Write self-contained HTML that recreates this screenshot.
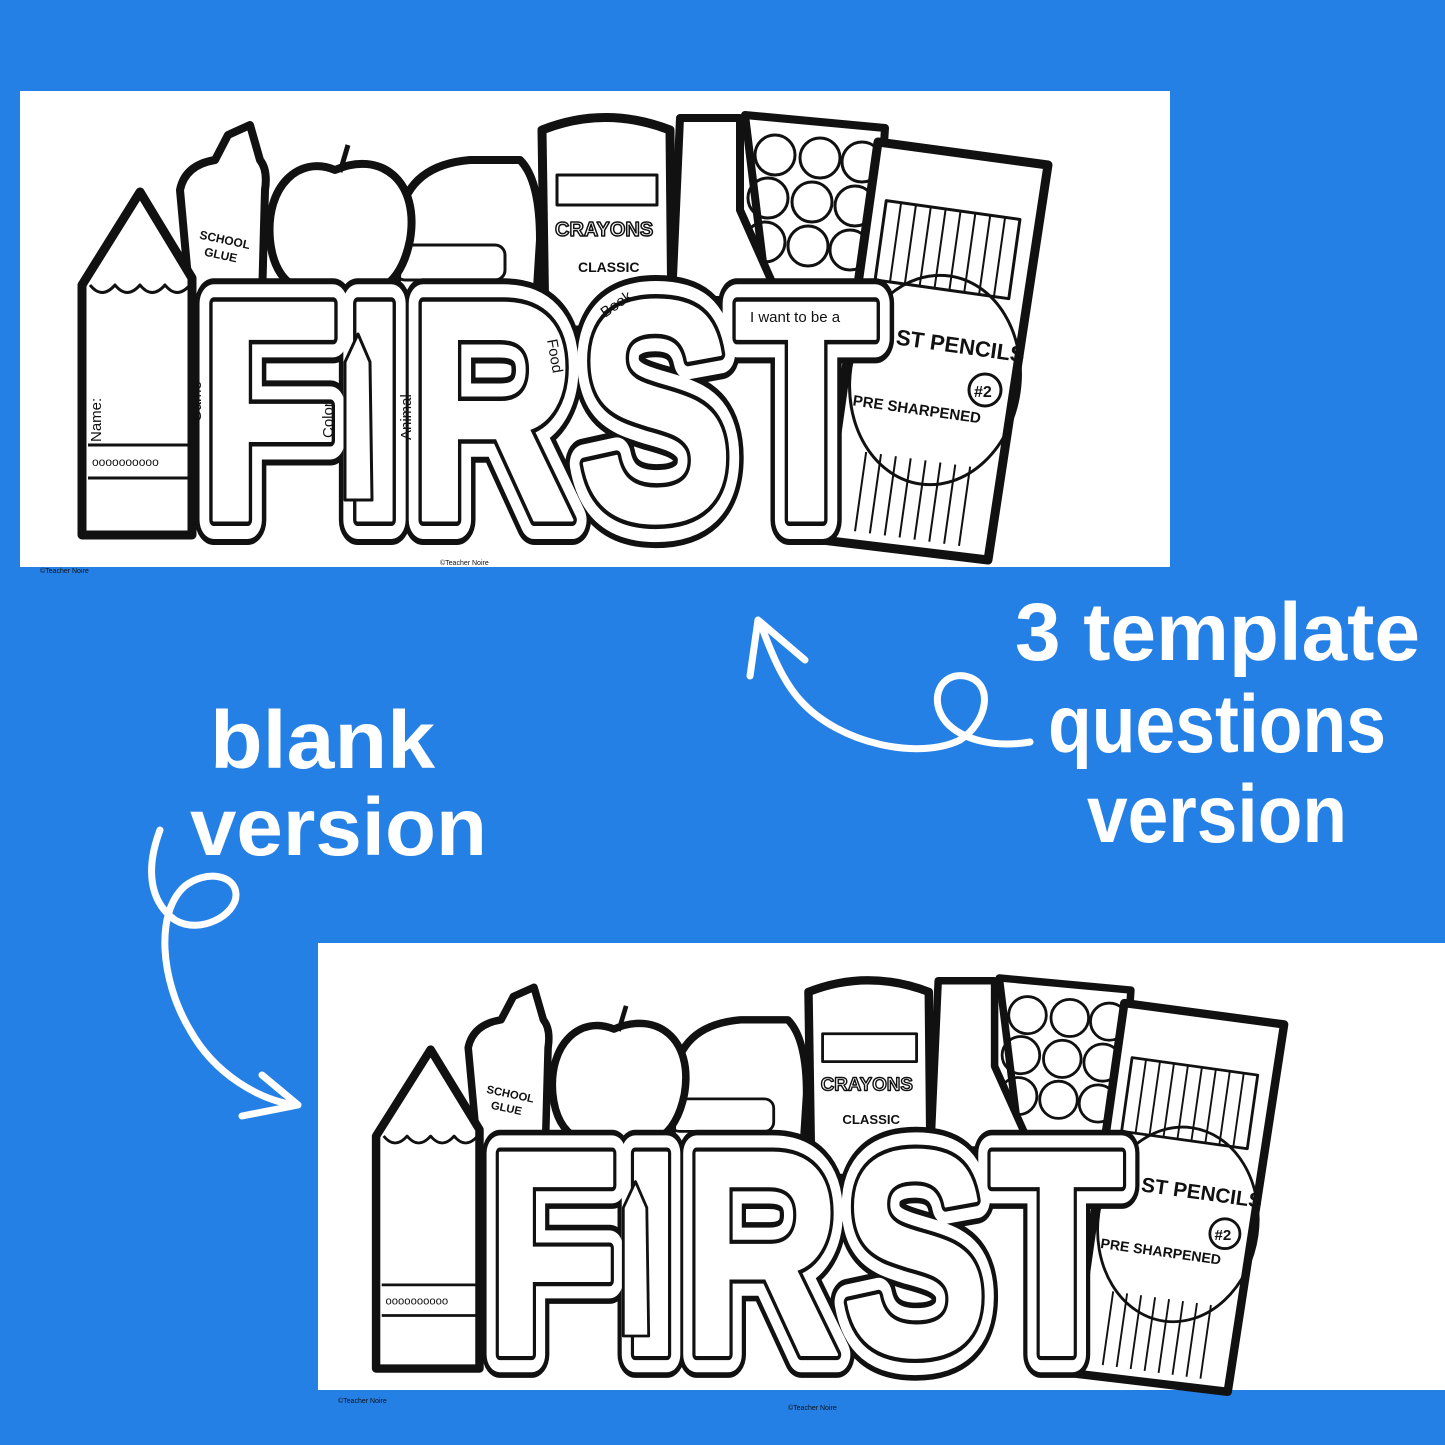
<!DOCTYPE html>
<html><head><meta charset="utf-8"><style>
html,body{margin:0;padding:0;background:#2580E6;}
svg{display:block}
text{font-family:"Liberation Sans",sans-serif;}
</style></head><body>
<svg width="1445" height="1445" viewBox="0 0 1445 1445" xmlns="http://www.w3.org/2000/svg">
<rect width="1445" height="1445" fill="#2580E6"/>
<rect x="20" y="91" width="1150" height="476" fill="#fff"/>
<rect x="318" y="943" width="1127" height="447" fill="#fff"/>
<defs>
<g id="art" stroke="#111" fill="#fff" stroke-linejoin="round">
  <polygon points="745,115 885,128 872,330 770,320" stroke-width="8"/>
  <g fill="none" stroke-width="3">
    <circle cx="775" cy="155" r="20"/><circle cx="820" cy="158" r="20"/><circle cx="862" cy="162" r="20"/>
    <circle cx="768" cy="198" r="20"/><circle cx="812" cy="202" r="20"/><circle cx="855" cy="206" r="20"/>
    <circle cx="765" cy="242" r="20"/><circle cx="808" cy="246" r="20"/><circle cx="850" cy="250" r="20"/>
  </g>
  <polygon points="878,142 1048,165 988,560 822,540" stroke-width="9"/>
  <g fill="none" stroke-width="2" transform="rotate(8 950 250)">
    <rect x="880" y="210" width="135" height="80" stroke-width="3"/>
    <path d="M895,210 V290 M910,210 V290 M925,210 V290 M940,210 V290 M955,210 V290 M970,210 V290 M985,210 V290 M1000,210 V290"/>
  </g>
  <ellipse cx="935" cy="380" rx="85" ry="105" fill="none" stroke-width="3" transform="rotate(8 935 380)"/>
  <g fill="none" stroke-width="2" transform="rotate(8 920 500)">
    <path d="M860,460 V540 M875,460 V540 M890,460 V540 M905,460 V540 M920,460 V540 M935,460 V540 M950,460 V540 M965,460 V540"/>
  </g>
  <text x="895" y="352" font-size="22" font-weight="bold" fill="#111" stroke="none" transform="rotate(8 950 350)">ST PENCILS</text>
  <text x="852" y="412" font-size="15" font-weight="bold" fill="#111" stroke="none" transform="rotate(8 900 410)">PRE SHARPENED</text>
  <circle cx="985" cy="390" r="16" fill="none" stroke-width="3"/>
  <text x="974" y="397" font-size="16" font-weight="bold" fill="#111" stroke="none">#2</text>
  <path d="M680,118 L740,118 L740,210 L780,300 L672,300 Z" stroke-width="8"/>
  <path d="M542,130 Q605,105 670,130 L672,330 L545,330 Z" stroke-width="9"/>
  <rect x="557" y="175" width="100" height="30" fill="none" stroke-width="3"/>
  <text x="555" y="236" font-size="20" font-weight="bold" fill="#fff" stroke="#111" stroke-width="1.5">CRAYONS</text>
  <text x="578" y="272" font-size="14" font-weight="bold" fill="#111" stroke="none">CLASSIC</text>
  <path d="M400,215 Q410,165 470,160 L520,160 Q540,180 540,240 L535,320 L395,320 Z" stroke-width="8"/>
  <rect x="395" y="245" width="110" height="35" rx="10" fill="none" stroke-width="3"/>
  <path d="M335,170 C380,150 420,180 410,240 C400,290 370,300 340,290 C310,300 275,290 270,240 C265,185 300,155 335,170 Z" stroke-width="8"/>
  <path d="M340,172 L348,145" fill="none" stroke-width="5"/>
  <path d="M180,190 Q185,165 215,160 L228,135 L250,125 L260,160 Q268,170 265,190 L262,300 L190,300 Z" stroke-width="8"/>
  <text x="198" y="243" font-size="12" font-weight="bold" fill="#111" stroke="none" transform="rotate(12 220 245)">SCHOOL</text>
  <text x="203" y="259" font-size="12" font-weight="bold" fill="#111" stroke="none" transform="rotate(12 220 260)">GLUE</text>
  <polygon points="82,285 140,192 192,278 192,535 82,535" stroke-width="9"/>
  <path d="M90,285 q12,15 25,0 q12,15 25,0 q12,15 25,0 q12,15 25,0" fill="none" stroke-width="3"/>
  <path d="M88,445 L190,445 M88,478 L190,478" fill="none" stroke-width="3"/>
  <text x="92" y="466" font-size="12" fill="#111" stroke="none">oooooooooo</text>
  <g font-family="Liberation Sans" font-weight="bold">
    <text x="198" y="520" font-size="315" textLength="680" lengthAdjust="spacingAndGlyphs" fill="none" stroke="#111" stroke-width="50">FIRST</text>
    <text x="198" y="520" font-size="315" textLength="680" lengthAdjust="spacingAndGlyphs" fill="#fff" stroke="#fff" stroke-width="38">FIRST</text>
    <text x="198" y="520" font-size="315" textLength="680" lengthAdjust="spacingAndGlyphs" fill="#fff" stroke="#111" stroke-width="12">FIRST</text>
    <text x="198" y="520" font-size="315" textLength="680" lengthAdjust="spacingAndGlyphs" fill="#fff" stroke="#fff" stroke-width="3">FIRST</text>
  </g>
  <path d="M345,362 L358,334 L370,362 L372,500 L345,500 Z" stroke-width="3"/>
</g>
</defs>
<use href="#art"/>
<use href="#art" transform="translate(299 871) scale(0.94 0.93)"/>
<g font-size="15" fill="#111">
  <text transform="translate(101 442) rotate(-90)">Name:</text>
  <text transform="translate(201 422) rotate(-90)">Game</text>
  <text transform="translate(333 438) rotate(-90)">Color</text>
  <text transform="translate(411 440) rotate(-90)">Animal</text>
  <text transform="translate(547 340) rotate(80)">Food</text>
  <text transform="translate(605 318) rotate(-35)">Book</text>
  <text x="750" y="322">I want to be a</text>
</g>
<text x="40" y="573" font-size="7" fill="#111">©Teacher Noire</text>
<text x="440" y="565" font-size="7" fill="#111">©Teacher Noire</text>
<text x="338" y="1403" font-size="7" fill="#111">©Teacher Noire</text>
<text x="788" y="1410" font-size="7" fill="#111">©Teacher Noire</text>
<g fill="#fff" font-weight="bold">
  <text x="1015" y="660" font-size="82" textLength="405" lengthAdjust="spacingAndGlyphs">3 template</text>
  <text x="1048" y="752" font-size="82" textLength="338" lengthAdjust="spacingAndGlyphs">questions</text>
  <text x="1087" y="842" font-size="82" textLength="260" lengthAdjust="spacingAndGlyphs">version</text>
  <text x="210" y="768" font-size="82" textLength="225" lengthAdjust="spacingAndGlyphs">blank</text>
  <text x="190" y="855" font-size="82" textLength="297" lengthAdjust="spacingAndGlyphs">version</text>
</g>
<g fill="none" stroke="#fff" stroke-width="7" stroke-linecap="round" stroke-linejoin="round">
  <path d="M1030,742 C995,748 962,740 946,722 C928,700 940,672 965,676 C995,682 988,722 960,740 C920,760 840,745 800,700 C782,680 770,650 760,622"/>
  <path d="M750,676 L758,620 L805,660"/>
  <path d="M160,830 C145,870 150,902 175,920 C200,935 236,915 236,895 C236,874 205,870 185,886 C155,912 160,980 190,1030 C215,1075 260,1100 295,1105"/>
  <path d="M262,1075 L298,1105 L242,1116"/>
</g>
</svg>
</body></html>
